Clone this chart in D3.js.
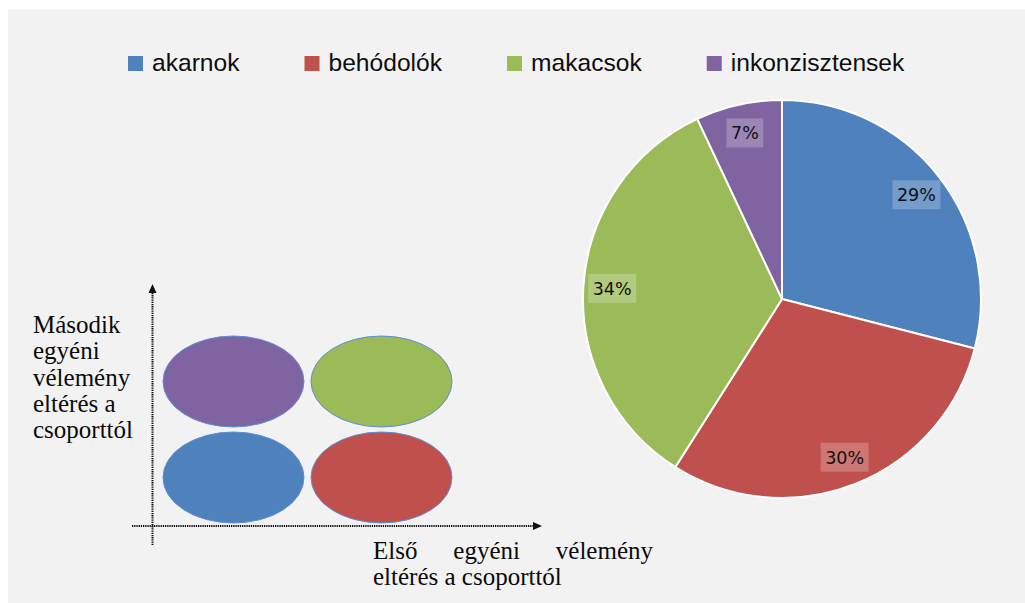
<!DOCTYPE html>
<html>
<head>
<meta charset="utf-8">
<script src="https://cdn.jsdelivr.net/npm/d3@7"></script>
<style>
  html, body { margin: 0; padding: 0; background: #ffffff; }
  svg { display: block; }
</style>
</head>
<body>
<svg id="chart" width="1025" height="603"></svg>
<script>
// Group types and their share of respondents
const categories = ["akarnok", "behódolók", "makacsok", "inkonzisztensek"];
const shares = [29, 30, 34, 7];
const colors = ["#4f81bd", "#c0504d", "#9bbb59", "#8064a2"];

// Position of each group in the deviation diagram (0 = no deviation, 1 = deviation)
const firstDeviation = [0, 1, 1, 0];
const secondDeviation = [0, 0, 1, 1];

// Axis captions
const yCaptionLines = ["Második", "egyéni", "vélemény", "eltérés a", "csoporttól"];
const xCaptionWords = ["Első", "egyéni", "vélemény"];
const xCaptionSecondLine = "eltérés a csoporttól";

const svg = d3.select("#chart");

// Panel background
svg.append("rect")
  .attr("x", 8).attr("y", 9.5)
  .attr("width", 1017).attr("height", 594)
  .attr("fill", "#f2f2f2");

// ---------- Legend ----------
const legend = svg.append("g").attr("class", "legend");
let lx = 128;
categories.forEach((name, i) => {
  const item = legend.append("g");
  item.append("rect")
    .attr("x", lx).attr("y", 56)
    .attr("width", 15).attr("height", 15)
    .attr("fill", colors[i]);
  const t = item.append("text")
    .attr("x", lx + 24).attr("y", 71)
    .attr("font-family", "Liberation Sans, Arial, sans-serif")
    .attr("font-size", 24.6)
    .attr("fill", "#0d0d0d")
    .text(name);
  lx = lx + 24 + t.node().getComputedTextLength() + 65;
});

// ---------- Pie ----------
const cx = 782, cy = 299, radius = 199;
const pie = d3.pie().sort(null).value(d => d)(shares);
const arc = d3.arc().innerRadius(0).outerRadius(radius);
const labelArc = d3.arc().innerRadius(radius * 0.855).outerRadius(radius * 0.855);

const pieG = svg.append("g").attr("transform", `translate(${cx},${cy})`);
pieG.selectAll("path.slice")
  .data(pie)
  .join("path")
  .attr("class", "slice")
  .attr("d", arc)
  .attr("fill", (d, i) => colors[i])
  .attr("stroke", "#ffffff")
  .attr("stroke-width", 2)
  .attr("stroke-linejoin", "round");

const labels = pieG.selectAll("g.label")
  .data(pie)
  .join("g")
  .attr("class", "label")
  .attr("transform", d => `translate(${labelArc.centroid(d)})`);

labels.each(function (d) {
  const g = d3.select(this);
  const txt = g.append("text")
    .attr("text-anchor", "middle")
    .attr("dy", "0.36em")
    .attr("font-family", "DejaVu Sans, Verdana, sans-serif")
    .attr("font-size", 17.5)
    .attr("fill", "#111")
    .text(d.data + "%");
  const w = txt.node().getComputedTextLength() + 9;
  g.insert("rect", "text")
    .attr("x", -w / 2).attr("y", -14.5)
    .attr("width", w).attr("height", 29)
    .attr("fill", "rgba(255,255,255,0.22)");
});

// ---------- Deviation diagram ----------
const xPos = d3.scalePoint().domain([0, 1]).range([233.5, 381.5]);
const yPos = d3.scalePoint().domain([0, 1]).range([477.5, 381.5]);

const diag = svg.append("g").attr("class", "diagram");

// Axes drawn as dotted lines with arrow heads
const axisStyle = sel => sel
  .attr("stroke", "#111")
  .attr("stroke-width", 2)
  .attr("stroke-dasharray", "1.3,0.9");

diag.append("line")
  .attr("x1", 152.5).attr("y1", 545)
  .attr("x2", 152.5).attr("y2", 290)
  .call(axisStyle);
diag.append("path")
  .attr("d", "M152.5,284 L148.5,293 L156.5,293 Z")
  .attr("fill", "#111");

diag.append("line")
  .attr("x1", 132).attr("y1", 526)
  .attr("x2", 534).attr("y2", 526)
  .call(axisStyle);
diag.append("path")
  .attr("d", "M542,526 L533,522 L533,530 Z")
  .attr("fill", "#111");

diag.selectAll("ellipse")
  .data(categories.map((c, i) => ({ c, i })))
  .join("ellipse")
  .attr("cx", d => xPos(firstDeviation[d.i]))
  .attr("cy", d => yPos(secondDeviation[d.i]))
  .attr("rx", 70.5)
  .attr("ry", 45.5)
  .attr("fill", d => colors[d.i])
  .attr("stroke", "#5b8fd6")
  .attr("stroke-width", 1);

// Vertical axis caption
const serif = "Liberation Serif, Times New Roman, serif";
diag.selectAll("text.ycap")
  .data(yCaptionLines)
  .join("text")
  .attr("class", "ycap")
  .attr("x", 33)
  .attr("y", (d, i) => 333 + i * 26.3)
  .attr("font-family", serif)
  .attr("font-size", 25)
  .attr("fill", "#0a0a0a")
  .text(d => d);

// Horizontal axis caption, first line justified between left and right edges
const capLeft = 373, capRight = 653;
const words = diag.selectAll("text.xcap")
  .data(xCaptionWords)
  .join("text")
  .attr("class", "xcap")
  .attr("y", 559)
  .attr("font-family", serif)
  .attr("font-size", 25)
  .attr("fill", "#0a0a0a")
  .text(d => d);
const widths = [];
words.each(function () { widths.push(this.getComputedTextLength()); });
const gap = (capRight - capLeft - d3.sum(widths)) / (widths.length - 1);
let wx = capLeft;
words.attr("x", (d, i) => {
  const x = wx;
  wx += widths[i] + gap;
  return x;
});

diag.append("text")
  .attr("x", capLeft)
  .attr("y", 585)
  .attr("font-family", serif)
  .attr("font-size", 25)
  .attr("fill", "#0a0a0a")
  .text(xCaptionSecondLine);
</script>
</body>
</html>
